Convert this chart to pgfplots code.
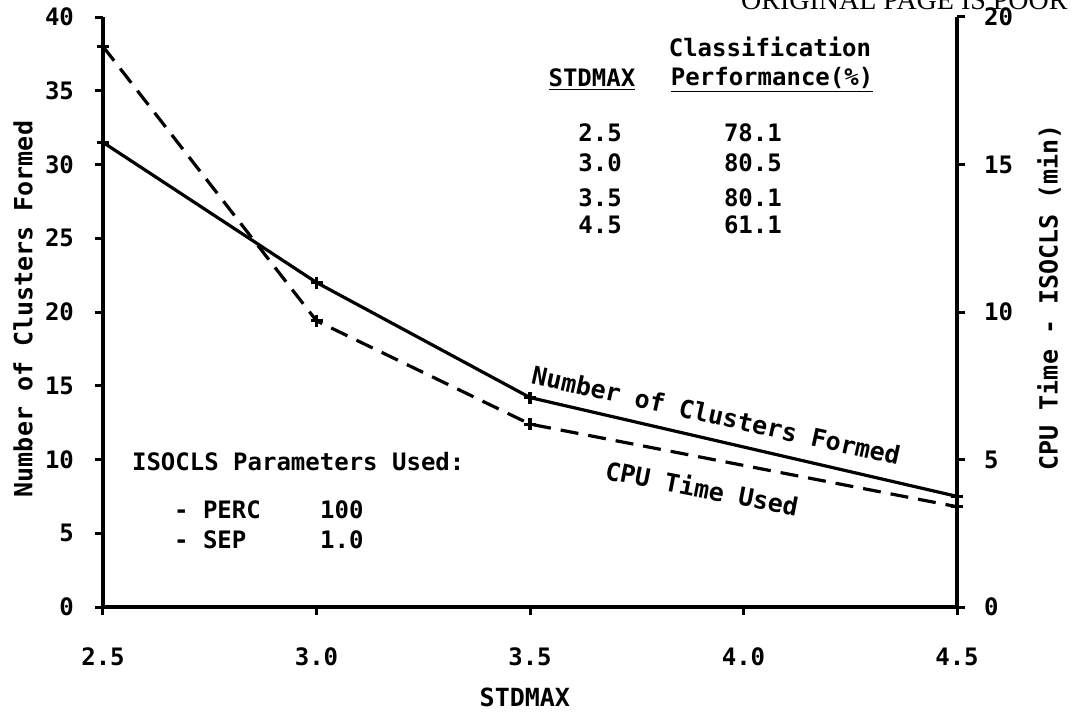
\documentclass[border=0pt]{standalone}
\usepackage{pgfplots}
\pgfplotsset{compat=1.18}
\usepackage{fontspec}
\setmainfont{DejaVu Sans Mono}
\newfontfamily\serif{Liberation Serif}
\newcommand{\fs}[1]{\fontsize{#1}{#1}\selectfont\bfseries}
\begin{document}
\begin{tikzpicture}
\useasboundingbox (-51.5pt,-52.5pt) rectangle (488pt,303.5pt);
\begin{axis}[
  at={(0,0)}, anchor=south west, scale only axis,
  width=427pt, height=295pt,
  xmin=2.5, xmax=4.5, ymin=0, ymax=40,
  axis x line*=bottom, axis y line*=left,
  axis line style={line width=1.7pt},
  xtick={2.5,3.0,3.5,4.0,4.5},
  xticklabels={2.5,3.0,3.5,4.0,4.5},
  ytick={0,5,...,40},
  tick align=outside, major tick length=4pt,
  tick style={line width=1.5pt, black},
  /pgf/number format/assume math mode=true,
  yticklabel style={font=\fs{12}, xshift=-7pt},
  xticklabel style={font=\fs{12}, yshift=-13pt},
  ylabel={Number of Clusters Formed},
  ylabel style={font=\fs{12.5}, at={(rel axis cs:0,0.505)}, anchor=center, yshift=40pt},
  xlabel={STDMAX},
  xlabel style={font=\fs{12.5}, at={(rel axis cs:0.494,0)}, anchor=center, yshift=-45pt},
  clip=false,
]
\addplot[line width=1.6pt, black, mark=+, mark size=3pt] coordinates {
  (2.5,31.5) (3.0,22.0) (3.5,14.2) (4.5,7.5)
};
% annotations
\node[font=\fs{12}, anchor=west] at (axis cs:2.5515,9.83) {ISOCLS Parameters Used:};
\node[font=\fs{12}, anchor=west] at (axis cs:2.650,6.58) {- PERC};
\node[font=\fs{12}, anchor=west] at (axis cs:2.992,6.58) {100};
\node[font=\fs{12}, anchor=west] at (axis cs:2.650,4.54) {- SEP};
\node[font=\fs{12}, anchor=west] at (axis cs:2.992,4.54) {1.0};
\node[font=\fs{12}] at (axis cs:4.062,37.97) {Classification};
\node[font=\fs{12}] at (axis cs:4.067,35.73) {\underline{Performance(\%)}};
\node[font=\fs{12}] at (axis cs:3.645,35.73) {\underline{STDMAX}};
\node[font=\fs{12}] at (axis cs:3.664,32.14) {2.5};
\node[font=\fs{12}] at (axis cs:3.664,30.10) {3.0};
\node[font=\fs{12}] at (axis cs:3.664,27.73) {3.5};
\node[font=\fs{12}] at (axis cs:3.664,25.90) {4.5};
\node[font=\fs{12}] at (axis cs:4.022,32.14) {78.1};
\node[font=\fs{12}] at (axis cs:4.022,30.10) {80.5};
\node[font=\fs{12}] at (axis cs:4.022,27.73) {80.1};
\node[font=\fs{12}] at (axis cs:4.022,25.90) {61.1};
\node[font=\fs{12.5}, rotate=-12.5] at (axis cs:3.936,13.0) {Number of Clusters Formed};
\node[font=\fs{12.5}, rotate=-11] at (axis cs:3.903,8.07) {CPU Time Used};
\node[font=\serif\fontsize{14}{14}\selectfont, anchor=base east, inner sep=0pt] at (axis cs:4.76,40.5) {ORIGINAL PAGE IS POOR};
\end{axis}
\begin{axis}[
  at={(0,0)}, anchor=south west, scale only axis,
  width=427pt, height=295pt,
  xmin=2.5, xmax=4.5, ymin=0, ymax=20,
  axis x line=none, axis y line*=right,
  axis line style={line width=1.7pt},
  ytick={0,5,...,20},
  tick align=outside, major tick length=4pt,
  tick style={line width=1.5pt, black},
  /pgf/number format/assume math mode=true,
  yticklabel style={font=\fs{12}, xshift=6pt},
  ylabel={CPU Time - ISOCLS (min)},
  ylabel style={font=\fs{12.5}, at={(rel axis cs:1,0.525)}, anchor=center, yshift=-46pt},
  clip=false,
]
\addplot[line width=1.6pt, black, dash pattern=on 9pt off 5pt, mark=+, mark size=3pt, mark options={solid}] coordinates {
  (2.5,19.0) (3.0,9.7) (3.5,6.2) (4.5,3.4)
};
\end{axis}
\end{tikzpicture}
\end{document}
